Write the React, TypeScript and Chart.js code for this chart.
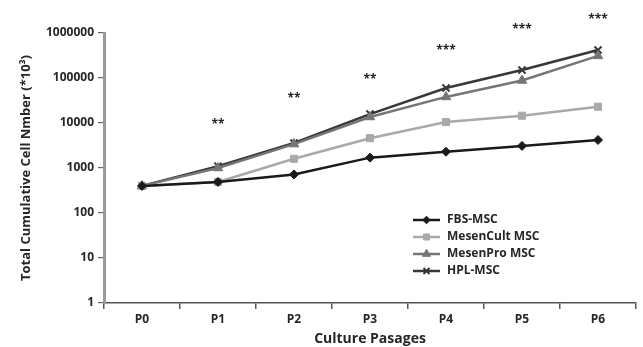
import React, { useEffect, useRef } from "react";
import { Chart, registerables } from "chart.js";
import { drawPoint } from "chart.js/helpers";

Chart.register(...registerables);

const categories = ["P0", "P1", "P2", "P3", "P4", "P5", "P6"];
const fbsMsc = [400, 490, 720, 1700, 2300, 3100, 4200];
const mesenCultMsc = [400, 490, 1600, 4600, 10500, 14500, 23000];
const mesenProMsc = [400, 1000, 3400, 13600, 38000, 88000, 310000];
const hplMsc = [400, 1100, 3600, 15800, 60000, 150000, 420000];
const yTickValues = [1, 10, 100, 1000, 10000, 100000, 1000000];
const sigLabels = ["", "**", "**", "**", "***", "***", "***"];
const sigValues = [null, 11000, 40000, 105000, 470000, 1360000, 2300000];

const FONT = "'Open Sans', Lato, sans-serif";
const TEXT = "#262626";

const sigPlugin = {
  id: "sigPlugin",
  afterDraw(chart: any) {
    const ctx = chart.ctx;
    const x = chart.scales.x;
    const y = chart.scales.y;
    ctx.save();
    ctx.font = `bold 12px ${FONT}`;
    ctx.fillStyle = TEXT;
    ctx.textAlign = "center";
    ctx.textBaseline = "middle";
    sigLabels.forEach((lab, i) => {
      const v = sigValues[i];
      if (!lab || v == null) return;
      ctx.fillText(lab, x.getPixelForValue(i), y.getPixelForValue(v) + 3);
    });
    ctx.restore();
  },
};

const legendPlugin = {
  id: "customLegend",
  afterDraw(chart: any) {
    const ctx = chart.ctx;
    const left = 413;
    const top = 220;
    const step = 17;
    ctx.save();
    chart.data.datasets.forEach((ds: any, i: number) => {
      const yy = top + i * step;
      ctx.strokeStyle = ds.borderColor;
      ctx.lineWidth = ds.borderWidth;
      ctx.beginPath();
      ctx.moveTo(left, yy);
      ctx.lineTo(left + 27, yy);
      ctx.stroke();
      ctx.fillStyle = ds.pointBackgroundColor;
      ctx.strokeStyle = ds.pointBorderColor;
      ctx.lineWidth = ds.pointBorderWidth ?? 1;
      drawPoint(
        ctx,
        {
          pointStyle: ds.pointStyle,
          radius: ds.pointRadius * 0.85,
          borderWidth: ds.pointBorderWidth ?? 1,
          rotation: 0,
        } as any,
        left + 13.5,
        yy
      );
      ctx.fillStyle = TEXT;
      ctx.font = `bold 12px ${FONT}`;
      ctx.textAlign = "left";
      ctx.textBaseline = "middle";
      ctx.fillText(ds.label, left + 34, yy);
    });
    ctx.restore();
  },
};

function mk(label: string, data: number[], color: string, style: string, radius: number) {
  return {
    label,
    data,
    borderColor: color,
    backgroundColor: color,
    pointBackgroundColor: color,
    pointBorderColor: color,
    borderWidth: 2.5,
    pointStyle: style,
    pointRadius: radius,
    pointBorderWidth: style === "crossRot" ? 2 : 1,
    tension: 0,
  };
}

export default function App() {
  const ref = useRef<HTMLCanvasElement>(null);
  useEffect(() => {
    document.body.style.margin = "0";
    const chart = new Chart(ref.current!, {
      type: "line",
      data: {
        labels: categories,
        datasets: [
          mk("FBS-MSC", fbsMsc, "#1a1a1a", "rectRot", 4.5),
          mk("MesenCult MSC", mesenCultMsc, "#a9a9a9", "rect", 5),
          mk("MesenPro MSC", mesenProMsc, "#767676", "triangle", 5.5),
          mk("HPL-MSC", hplMsc, "#383838", "crossRot", 5),
        ] as any,
      },
      options: {
        animation: false,
        responsive: false,
        layout: { padding: { top: 33, right: 3, left: 0, bottom: 0 } },
        plugins: { legend: { display: false }, tooltip: { enabled: false } },
        scales: {
          x: {
            type: "category",
            offset: true,
            afterFit: (s: any) => {
              s.height = 44;
            },
            grid: {
              offset: true,
              drawOnChartArea: false,
              drawTicks: true,
              tickLength: 6,
              color: "#555",
              lineWidth: 1.5,
            },
            border: { color: "#555", width: 1.5 },
            ticks: { color: TEXT, font: { family: FONT, size: 12, weight: "bold" }, padding: 3 },
            title: {
              display: true,
              text: "Culture Pasages",
              color: TEXT,
              font: { family: FONT, size: 14, weight: "bold" },
              padding: { top: 2, bottom: 0 },
            },
          },
          y: {
            type: "logarithmic",
            min: 1,
            max: 1000000,
            afterBuildTicks: (s: any) => {
              s.ticks = yTickValues.map((v) => ({ value: v }));
            },
            afterFit: (s: any) => {
              s.width = 104;
            },
            grid: {
              drawOnChartArea: false,
              drawTicks: true,
              tickLength: 6,
              color: "#666",
              lineWidth: 1.2,
            },
            border: { color: "#9a9a9a", width: 3 },
            ticks: {
              color: TEXT,
              font: { family: FONT, size: 12, weight: "bold" },
              padding: 4,
              autoSkip: false,
              callback: (v: any) => String(v),
            },
            title: {
              display: true,
              text: "Total Cumulative Cell Nmber (*10³)",
              color: TEXT,
              font: { family: FONT, size: 13, weight: "bold" },
              padding: { top: 18, bottom: 0 },
            },
          },
        },
      } as any,
      plugins: [sigPlugin, legendPlugin],
    });
    return () => chart.destroy();
  }, []);
  return (
    <div style={{ width: 643, height: 347, background: "#fff" }}>
      <canvas ref={ref} width={643} height={347} />
    </div>
  );
}
